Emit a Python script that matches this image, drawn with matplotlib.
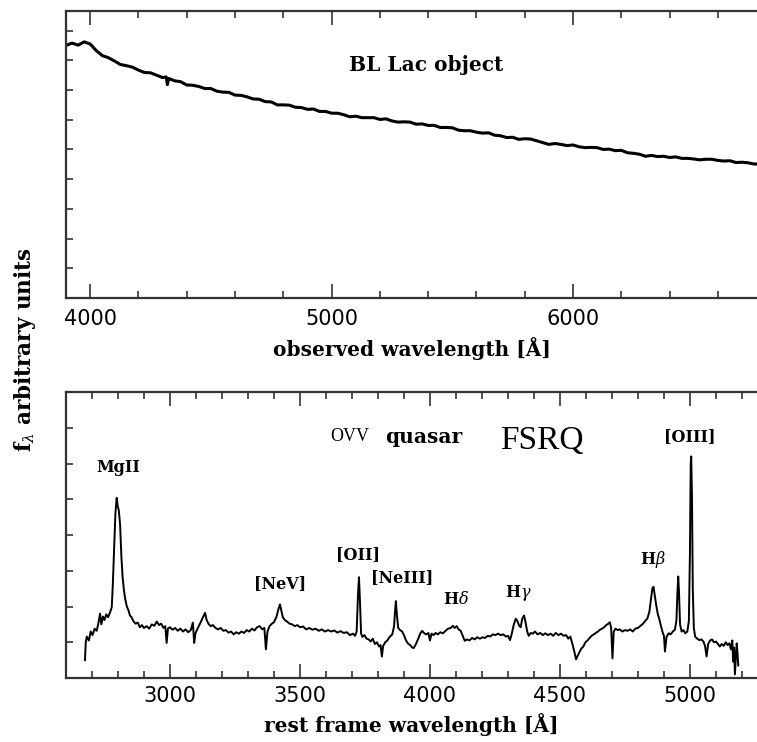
import numpy as np
import matplotlib
matplotlib.use('Agg')
import matplotlib.pyplot as plt
from matplotlib.ticker import MultipleLocator

# BL Lac: comprimento de onda observado (A) e fluxo
bl_wave = [3900, 3925, 3950, 3975, 4000, 4025, 4050, 4075, 4100, 4125,
           4150, 4175, 4200, 4225, 4250, 4275, 4300, 4315, 4320, 4325, 4350, 4375,
           4400, 4425, 4450, 4475, 4500, 4525, 4550, 4575, 4600, 4625,
           4650, 4675, 4700, 4725, 4750, 4775, 4800, 4825, 4850, 4875,
           4900, 4925, 4950, 4975, 5000, 5025, 5050, 5075, 5100, 5125,
           5150, 5175, 5200, 5225, 5250, 5275, 5300, 5325, 5350, 5375,
           5400, 5425, 5450, 5475, 5500, 5525, 5550, 5575, 5600, 5625,
           5650, 5675, 5700, 5725, 5750, 5775, 5800, 5825, 5850, 5875,
           5900, 5925, 5950, 5975, 6000, 6025, 6050, 6075, 6100, 6125,
           6150, 6175, 6200, 6225, 6250, 6275, 6300, 6325, 6350, 6375,
           6400, 6425, 6450, 6475, 6500, 6525, 6550, 6575, 6600, 6625,
           6650, 6675, 6700, 6725, 6750, 6775]
bl_flux = [8.50, 8.58, 8.51, 8.62, 8.55, 8.33, 8.16, 8.09, 7.98, 7.86,
           7.82, 7.77, 7.67, 7.59, 7.58, 7.50, 7.42, 7.44, 7.18, 7.39, 7.31, 7.28,
           7.17, 7.16, 7.12, 7.05, 7.05, 6.96, 6.93, 6.92, 6.83, 6.82,
           6.77, 6.70, 6.69, 6.61, 6.60, 6.50, 6.50, 6.49, 6.42, 6.41,
           6.35, 6.36, 6.28, 6.28, 6.22, 6.22, 6.17, 6.10, 6.12, 6.07,
           6.07, 6.07, 6.01, 6.03, 5.96, 5.92, 5.93, 5.92, 5.85, 5.86,
           5.81, 5.81, 5.74, 5.74, 5.73, 5.65, 5.63, 5.63, 5.58, 5.55,
           5.56, 5.48, 5.46, 5.40, 5.41, 5.34, 5.36, 5.35, 5.29, 5.23,
           5.17, 5.20, 5.17, 5.13, 5.15, 5.09, 5.06, 5.07, 5.06, 5.00,
           5.01, 4.96, 4.97, 4.89, 4.87, 4.84, 4.77, 4.80, 4.76, 4.77,
           4.73, 4.75, 4.70, 4.70, 4.68, 4.65, 4.67, 4.67, 4.63, 4.61,
           4.62, 4.56, 4.57, 4.55, 4.51, 4.51]

# FSRQ: comprimento de onda de repouso (A) e fluxo
rest_wave = [2673, 2676, 2680, 2688, 2695, 2702, 2710, 2718, 2725, 2731,
             2736, 2742, 2748, 2755, 2762, 2770, 2776, 2780, 2785, 2790,
             2795, 2799, 2803, 2808, 2813, 2818, 2823, 2828, 2834, 2840,
             2846, 2852, 2860, 2868, 2876, 2884, 2892, 2900, 2910, 2920,
             2930, 2940, 2949, 2958, 2966, 2975, 2982, 2987, 2992, 3000,
             3010, 3020, 3030, 3040, 3050, 3060, 3070, 3080, 3088, 3093,
             3098, 3106, 3114, 3122, 3128, 3135, 3141, 3148, 3156, 3165,
             3175, 3185, 3195, 3205, 3215, 3225, 3235, 3245, 3255, 3265,
             3275, 3285, 3295, 3305, 3315, 3325, 3335, 3345, 3355, 3363,
             3369, 3375, 3383, 3392, 3400, 3410, 3418, 3423, 3428, 3434,
             3442, 3450, 3460, 3470, 3480, 3490, 3500, 3512, 3524, 3536,
             3548, 3560, 3572, 3584, 3596, 3608, 3620, 3632, 3644, 3656,
             3668, 3680, 3692, 3704, 3712, 3718, 3723, 3727, 3731, 3735,
             3740, 3748, 3756, 3764, 3772, 3780, 3788, 3796, 3804, 3810,
             3815, 3820, 3828, 3836, 3845, 3855, 3862, 3866, 3869, 3873,
             3878, 3885, 3893, 3900, 3908, 3916, 3924, 3932, 3938, 3946,
             3955, 3963, 3970, 3978, 3986, 3994, 4000, 4006, 4014, 4022,
             4030, 4040, 4050, 4060, 4070, 4080, 4088, 4095, 4103, 4110,
             4118, 4126, 4134, 4142, 4152, 4162, 4172, 4182, 4192, 4202,
             4212, 4222, 4232, 4242, 4252, 4262, 4272, 4282, 4292, 4300,
             4308, 4315, 4322, 4330, 4336, 4342, 4349, 4355, 4362, 4368,
             4374, 4380, 4388, 4396, 4404, 4414, 4424, 4434, 4444, 4454,
             4464, 4474, 4484, 4494, 4504, 4514, 4524, 4532, 4540, 4548,
             4555, 4562, 4568, 4575, 4582, 4590, 4598, 4606, 4614, 4622,
             4630, 4638, 4646, 4654, 4662, 4670, 4678, 4686, 4692, 4697,
             4702, 4707, 4714, 4722, 4730, 4740, 4750, 4760, 4770, 4780,
             4790, 4800, 4810, 4820, 4828, 4836, 4844, 4850, 4856, 4860,
             4865, 4870, 4876, 4882, 4888, 4894, 4900, 4904, 4910, 4918,
             4926, 4934, 4942, 4948, 4952, 4955, 4958, 4962, 4968, 4975,
             4982, 4990, 4996, 5000, 5003, 5005, 5008, 5011, 5015, 5020,
             5028, 5036, 5044, 5052, 5058, 5064, 5070, 5078, 5085, 5092,
             5100, 5108, 5115, 5122, 5130, 5138, 5145, 5152, 5158, 5163,
             5166, 5170, 5173, 5177, 5180, 5183, 5186]
rest_flux = [0.50, 1.00, 1.16, 1.05, 1.30, 1.20, 1.38, 1.32, 1.55, 1.80,
             1.50, 1.72, 1.62, 1.78, 1.70, 1.85, 1.98, 2.60, 3.60, 4.60,
             5.04, 4.80, 4.70, 4.30, 3.40, 2.80, 2.45, 2.20, 2.00, 1.90,
             1.75, 1.70, 1.58, 1.52, 1.55, 1.42, 1.48, 1.40, 1.45, 1.38,
             1.50, 1.46, 1.58, 1.48, 1.52, 1.40, 1.45, 0.98, 1.38, 1.42,
             1.35, 1.40, 1.32, 1.38, 1.30, 1.36, 1.28, 1.34, 1.55, 0.98,
             1.25, 1.38, 1.50, 1.62, 1.72, 1.82, 1.62, 1.52, 1.45, 1.48,
             1.40, 1.36, 1.40, 1.32, 1.34, 1.27, 1.30, 1.22, 1.28, 1.24,
             1.30, 1.26, 1.34, 1.30, 1.38, 1.33, 1.42, 1.45, 1.36, 1.40,
             0.80, 1.30, 1.45, 1.52, 1.56, 1.72, 1.95, 2.06, 1.90, 1.70,
             1.62, 1.58, 1.52, 1.50, 1.45, 1.48, 1.42, 1.44, 1.36, 1.40,
             1.35, 1.38, 1.32, 1.36, 1.30, 1.34, 1.30, 1.33, 1.27, 1.31,
             1.26, 1.28, 1.20, 1.24, 1.18, 1.30, 2.30, 2.82, 2.10, 1.25,
             1.15, 1.20, 1.10, 1.08, 1.02, 1.10, 0.95, 1.00, 0.88, 0.92,
             0.60, 0.90, 1.00, 1.05, 1.15, 1.22, 1.45, 1.90, 2.15, 1.75,
             1.40, 1.34, 1.30, 1.20, 1.05, 0.96, 0.92, 0.85, 0.84, 0.95,
             1.10, 1.25, 1.32, 1.25, 1.22, 1.26, 1.05, 1.24, 1.20, 1.26,
             1.22, 1.28, 1.25, 1.32, 1.38, 1.40, 1.46, 1.40, 1.45, 1.36,
             1.32, 1.18, 1.04, 1.08, 1.05, 1.12, 1.08, 1.14, 1.10, 1.14,
             1.12, 1.18, 1.16, 1.22, 1.20, 1.24, 1.20, 1.22, 1.16, 1.18,
             1.06, 1.25, 1.48, 1.66, 1.60, 1.48, 1.42, 1.66, 1.75, 1.55,
             1.30, 1.18, 1.26, 1.24, 1.30, 1.22, 1.26, 1.20, 1.25, 1.20,
             1.24, 1.18, 1.26, 1.20, 1.24, 1.18, 1.20, 1.10, 1.16, 0.95,
             0.75, 0.52, 0.62, 0.72, 0.82, 0.88, 1.00, 1.05, 1.12, 1.18,
             1.22, 1.26, 1.30, 1.35, 1.38, 1.42, 1.48, 1.52, 1.56, 1.40,
             0.55, 1.30, 1.38, 1.34, 1.36, 1.30, 1.34, 1.32, 1.36, 1.30,
             1.38, 1.40, 1.46, 1.52, 1.60, 1.66, 1.85, 2.20, 2.52, 2.55,
             2.30, 2.05, 1.80, 1.65, 1.48, 1.30, 1.18, 0.74, 1.15, 1.25,
             1.22, 1.30, 1.35, 1.60, 2.40, 2.84, 2.40, 1.50, 1.30, 1.34,
             1.25, 1.30, 1.60, 3.50, 6.00, 6.20, 5.00, 2.50, 1.40, 1.16,
             1.10, 1.06, 1.08, 1.02, 0.90, 0.60, 0.95, 1.05, 1.08, 1.00,
             1.02, 0.95, 0.88, 0.95, 0.90, 1.00, 0.92, 0.97, 0.80, 1.05,
             0.46, 0.85, 0.10, 0.60, 0.97, 0.70, 0.35]

# Linhas de emissão: rótulo e posição (lambda, fluxo)
line_labels = ['MgII', '[NeV]', '[OII]', '[NeIII]', r'H$\delta$', r'H$\gamma$', r'H$\beta$', '[OIII]']
line_x = [2800, 3423, 3724, 3892, 4100, 4340, 4859, 5000]
line_y = [5.88, 2.65, 3.45, 2.80, 2.20, 2.39, 3.31, 6.76]

plt.rcParams['mathtext.fontset'] = 'dejavuserif'
spine_col = '#333333'

fig = plt.figure(figsize=(7.57, 7.42), dpi=100)
ax1 = fig.add_axes([66/757, 1 - 298/742, 691/757, 287/742])
ax2 = fig.add_axes([66/757, 1 - 678/742, 691/757, 286/742])


def estilo(ax, major, minor, y_major):
    for lado in ['left', 'top', 'bottom']:
        ax.spines[lado].set_linewidth(1.6)
        ax.spines[lado].set_color(spine_col)
    ax.spines['right'].set_visible(False)
    ax.xaxis.set_major_locator(MultipleLocator(major))
    ax.xaxis.set_minor_locator(MultipleLocator(minor))
    ax.yaxis.set_major_locator(MultipleLocator(y_major))
    ax.tick_params(axis='x', which='major', direction='in', length=10, width=1.2,
                   top=True, colors=spine_col, labelcolor='black', labelsize=15)
    ax.tick_params(axis='x', which='minor', direction='in', length=5, width=1.2,
                   top=True, colors=spine_col)
    ax.tick_params(axis='y', which='major', direction='in', length=5, width=1.2,
                   labelleft=False, colors=spine_col)


# Painel superior: BL Lac
ax1.plot(bl_wave, bl_flux, color='black', lw=2.2)
ax1.set_xlim(3900, 6762)
ax1.set_ylim(0, 9.66)
estilo(ax1, 1000, 200, 1)
ax1.tick_params(axis='x', which='major', pad=8)
ax1.set_xlabel('observed wavelength [Å]', family='DejaVu Serif', fontweight='bold',
               fontsize=14.5, labelpad=6)
ax1.text(5391, 7.85, 'BL Lac object', family='DejaVu Serif', fontweight='semibold',
         fontsize=14.5, ha='center', va='center')

# Painel inferior: FSRQ
ax2.plot(rest_wave, rest_flux, color='black', lw=1.4)
ax2.set_xlim(2600, 5258)
ax2.set_ylim(0, 8)
estilo(ax2, 500, 100, 1)
ax2.tick_params(axis='x', which='major', pad=6)
ax2.set_xlabel('rest frame wavelength [Å]', family='DejaVu Serif', fontweight='bold',
               fontsize=14.5, labelpad=5)

for lab, lx, ly in zip(line_labels, line_x, line_y):
    ax2.text(lx, ly, lab, family='DejaVu Serif', fontweight='bold', fontsize=11.5,
             ha='center', va='center')

ax2.text(3615, 6.75, 'OVV', family='Liberation Serif', fontsize=13,
         ha='left', va='center')
ax2.text(3827, 6.75, 'quasar', family='DejaVu Serif', fontweight='bold', fontsize=14.5,
         ha='left', va='center')
ax2.text(4431, 6.64, 'FSRQ', family='Liberation Serif', fontsize=24,
         ha='center', va='center')

fig.text(25/757, 1 - 350/742, r'$\mathbf{f}_\lambda$ arbitrary units', family='DejaVu Serif',
         fontweight='bold', fontsize=15.5, rotation=90, ha='center', va='center')

fig.savefig('out.png', dpi=100)
